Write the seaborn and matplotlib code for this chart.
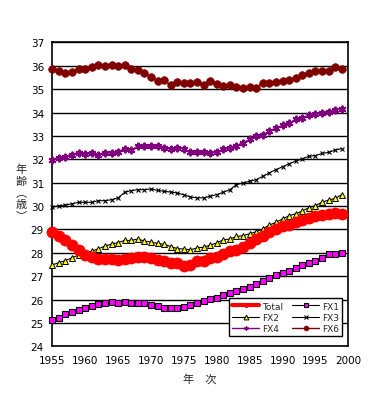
import numpy as np
import pandas as pd
import matplotlib
matplotlib.use("Agg")
import matplotlib.pyplot as plt
from matplotlib.lines import Line2D
import seaborn as sns

# --- data (mean age by year) ---
years = list(range(1955, 2000))

total = [28.87, 28.70, 28.53, 28.34, 28.13, 27.91, 27.82, 27.73, 27.73, 27.73,
         27.70, 27.73, 27.77, 27.82, 27.82, 27.77, 27.70, 27.67, 27.58, 27.56,
         27.44, 27.48, 27.63, 27.67, 27.77, 27.84, 27.96, 28.06, 28.13, 28.24,
         28.42, 28.59, 28.73, 28.87, 29.02, 29.13, 29.20, 29.30, 29.39, 29.49,
         29.56, 29.63, 29.67, 29.70, 29.67]

fx1 = [25.12, 25.22, 25.38, 25.45, 25.54, 25.63, 25.73, 25.81, 25.87, 25.91,
       25.87, 25.91, 25.87, 25.87, 25.87, 25.77, 25.73, 25.64, 25.63, 25.63,
       25.67, 25.77, 25.84, 25.95, 26.01, 26.08, 26.20, 26.27, 26.37, 26.45,
       26.55, 26.67, 26.80, 26.91, 27.03, 27.13, 27.24, 27.34, 27.46, 27.56,
       27.66, 27.77, 27.96, 27.96, 27.99]

fx2 = [27.48, 27.58, 27.67, 27.79, 27.90, 27.99, 28.07, 28.17, 28.29, 28.37,
       28.44, 28.53, 28.53, 28.59, 28.50, 28.46, 28.40, 28.36, 28.27, 28.18,
       28.16, 28.13, 28.21, 28.24, 28.33, 28.42, 28.56, 28.59, 28.70, 28.73,
       28.82, 28.90, 29.02, 29.19, 29.30, 29.45, 29.59, 29.67, 29.79, 29.93,
       30.02, 30.16, 30.26, 30.33, 30.49]

fx3 = [29.94, 30.02, 30.04, 30.10, 30.16, 30.16, 30.16, 30.23, 30.23, 30.27,
       30.35, 30.59, 30.66, 30.70, 30.70, 30.73, 30.67, 30.63, 30.60, 30.56,
       30.48, 30.39, 30.35, 30.35, 30.42, 30.49, 30.59, 30.70, 30.92, 30.99,
       31.06, 31.13, 31.27, 31.42, 31.56, 31.68, 31.81, 31.92, 32.02, 32.13,
       32.16, 32.25, 32.30, 32.39, 32.46]

fx4 = [31.95, 32.05, 32.11, 32.20, 32.28, 32.24, 32.25, 32.20, 32.25, 32.28,
       32.33, 32.45, 32.39, 32.56, 32.56, 32.56, 32.56, 32.48, 32.45, 32.50,
       32.45, 32.30, 32.30, 32.30, 32.28, 32.32, 32.42, 32.48, 32.59, 32.71,
       32.85, 33.00, 33.03, 33.22, 33.33, 33.45, 33.54, 33.71, 33.78, 33.88,
       33.95, 34.00, 34.02, 34.11, 34.17]

fx6 = [35.86, 35.78, 35.69, 35.73, 35.86, 35.86, 35.95, 36.03, 35.99, 36.03,
       35.99, 36.03, 35.88, 35.82, 35.69, 35.52, 35.35, 35.39, 35.17, 35.32,
       35.26, 35.26, 35.32, 35.17, 35.35, 35.22, 35.14, 35.17, 35.09, 35.07,
       35.09, 35.07, 35.26, 35.26, 35.30, 35.35, 35.40, 35.48, 35.60, 35.69,
       35.78, 35.78, 35.78, 35.95, 35.87]

df = pd.DataFrame({"Year": years, "Total": total, "FX1": fx1, "FX2": fx2,
                   "FX3": fx3, "FX4": fx4, "FX6": fx6})

# --- styling per series ---
styles = {
    "FX6": dict(color="#800000", lw=1.0, marker="o", ms=5.5, mfc="#800000", mec="#800000", mew=0.5),
    "FX4": dict(color="#800080", lw=1.0, marker=(6, 2, 0), ms=5.5, mfc="#800080", mec="#800080", mew=1.4),
    "FX3": dict(color="black", lw=0.8, marker="x", ms=3, mfc="black", mec="black", mew=0.8),
    "FX2": dict(color="black", lw=0.8, marker="^", ms=5, mfc="#FFFF00", mec="black", mew=0.7),
    "Total": dict(color="#FF0000", lw=3.0, marker="o", ms=8, mfc="#FF0000", mec="#FF0000", mew=0.5),
    "FX1": dict(color="black", lw=0.8, marker="s", ms=5, mfc="#FF00FF", mec="black", mew=0.8),
}

sns.set_style("white")
plt.rcParams["font.family"] = ["DejaVu Sans", "Noto Sans CJK JP"]

fig = plt.figure(figsize=(3.70, 4.02), dpi=100)
ax = fig.add_axes([0.1414, 0.136, 0.80, 0.756])

for name in ["FX6", "FX4", "FX3", "FX2", "Total", "FX1"]:
    st = styles[name]
    sns.lineplot(x="Year", y=name, data=df, ax=ax, color=st["color"], lw=st["lw"],
                 marker=st["marker"], markersize=st["ms"], markerfacecolor=st["mfc"],
                 markeredgecolor=st["mec"], markeredgewidth=st["mew"],
                 clip_on=False, zorder=3)

ax.set_xlim(1955, 2000)
ax.set_ylim(24, 37)
ax.set_xticks(range(1955, 2001, 5))
ax.set_yticks(range(24, 38))
ax.tick_params(axis="both", labelsize=7.5, colors="black", length=3, width=0.8, direction="in")
ax.tick_params(axis="y", length=0, pad=6)
ax.tick_params(axis="x", pad=6)
ax.yaxis.grid(True, color="black", lw=1.0)
ax.set_axisbelow(True)
for sp in ax.spines.values():
    sp.set_color("black")
    sp.set_linewidth(1.2)

ax.set_xlabel("")
ax.set_ylabel("")
fig.text(0.541, 0.057, "年　次", ha="center", va="center", fontsize=8,
         family=["Noto Sans CJK JP", "DejaVu Sans"])
fig.text(0.058, 0.52, "年\n齢\n︵\n歳\n︶", ha="center", va="center", fontsize=8,
         linespacing=1.2, family=["Noto Sans CJK JP", "DejaVu Sans"])

# legend (column-wise fill: Total, FX2, FX4 | FX1, FX3, FX6)
def handle(name, ms):
    st = styles[name]
    return Line2D([], [], color=st["color"], lw=st["lw"], marker=st["marker"], ms=ms,
                  mfc=st["mfc"], mec=st["mec"], mew=min(st["mew"], 0.8))

order = ["Total", "FX2", "FX4", "FX1", "FX3", "FX6"]
sizes = {"Total": 3, "FX2": 3.5, "FX4": 3, "FX1": 3.5, "FX3": 2.5, "FX6": 3.5}
leg = ax.legend([handle(n, sizes[n]) for n in order], order, ncol=2,
                loc="lower right", bbox_to_anchor=(0.979, 0.033), fontsize=6.5,
                frameon=True, fancybox=False, edgecolor="black", framealpha=1,
                borderpad=0.35, labelspacing=0.25, handlelength=3.0,
                handletextpad=0.3, columnspacing=1.0, borderaxespad=0)
leg.get_frame().set_linewidth(1.0)
leg.set_zorder(5)

fig.savefig("out.png", dpi=100)
